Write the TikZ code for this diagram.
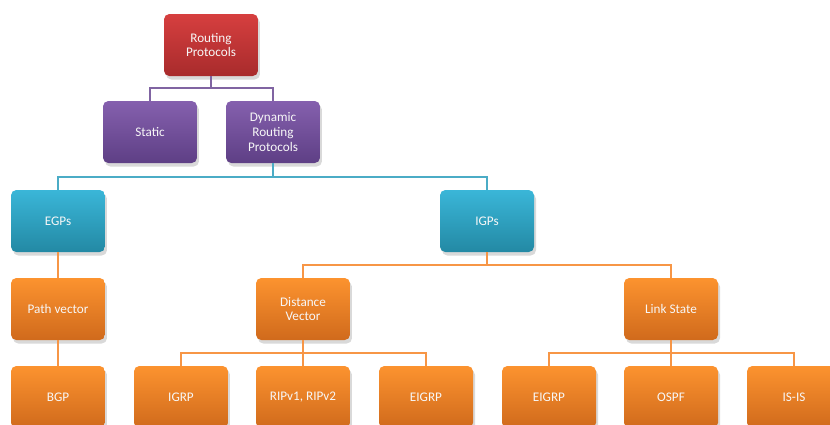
\documentclass[tikz,border=0pt]{standalone}
\usepackage{fontspec}
\setmainfont{Carlito}
\usetikzlibrary{shadows,calc}
\definecolor{redT}{HTML}{D63F3F}
\definecolor{redB}{HTML}{A82B2C}
\definecolor{purT}{HTML}{8560AE}
\definecolor{purB}{HTML}{5E3F85}
\definecolor{aquT}{HTML}{3AB6D8}
\definecolor{aquB}{HTML}{2389A4}
\definecolor{oraT}{HTML}{FC932F}
\definecolor{oraB}{HTML}{D06A1C}
\definecolor{purL}{HTML}{8064A2}
\definecolor{aquL}{HTML}{4BACC6}
\definecolor{oraL}{HTML}{F79646}

\begin{document}
\begin{tikzpicture}[x=0.02cm, y=-0.02cm,
	box/.style={rounded corners=3pt, minimum width=1.88cm, minimum height=1.24cm,
		text=white!94!gray, align=center, font=\fontsize{7.5}{8.3}\selectfont,
		drop shadow={opacity=0.3, shadow xshift=0.04cm, shadow yshift=-0.07cm}},
	redbox/.style={box, top color=redT, bottom color=redB},
	purbox/.style={box, top color=purT, bottom color=purB},
	aqubox/.style={box, top color=aquT, bottom color=aquB},
	orabox/.style={box, top color=oraT, bottom color=oraB},
	link/.style={line width=1.2pt}]
	\useasboundingbox (0,0) rectangle (830,424);
	\clip (0,0) rectangle (830,424);
	% boxes
	\node[redbox] (RP) at (211,45) {Routing\\Protocols};
	\node[purbox] (ST) at (150,132) {Static};
	\node[purbox] (DRP) at (273,132) {Dynamic\\Routing\\Protocols};
	\node[aqubox] (EGP) at (58,221) {EGPs};
	\node[aqubox] (IGP) at (487,221) {IGPs};
	\node[orabox] (PV) at (58,309) {Path vector};
	\node[orabox] (DV) at (303,309) {Distance\\Vector};
	\node[orabox] (LS) at (671,309) {Link State};
	\node[orabox] (BGP) at (58,397) {BGP};
	\node[orabox] (IGRP) at (181,397) {IGRP};
	\node[orabox] (RIP) at (303,397) {RIPv1, RIPv2};
	\node[orabox] (EIG1) at (426,397) {EIGRP};
	\node[orabox] (EIG2) at (549,397) {EIGRP};
	\node[orabox] (OSPF) at (671,397) {OSPF};
	\node[orabox] (ISIS) at (794,397) {IS-IS};
	% bar points
	\coordinate (A) at (211,88);
	\coordinate (B) at (273,177);
	\coordinate (C) at (487,265);
	\coordinate (D) at (303,353);
	\coordinate (E) at (671,353);
	% connectors
	\draw[link, purL] (RP.south) -- (A);
	\draw[link, purL] (ST.north) |- (A) -| (DRP.north);
	\draw[link, aquL] (DRP.south) -- (B);
	\draw[link, aquL] (EGP.north) |- (B) -| (IGP.north);
	\draw[link, oraL] (IGP.south) -- (C);
	\draw[link, oraL] (DV.north) |- (C) -| (LS.north);
	\draw[link, oraL] (EGP.south) -- (PV.north);
	\draw[link, oraL] (PV.south) -- (BGP.north);
	\draw[link, oraL] (DV.south) -- (D);
	\draw[link, oraL] (IGRP.north) |- (D) -| (EIG1.north);
	\draw[link, oraL] (D) -- (RIP.north);
	\draw[link, oraL] (LS.south) -- (E);
	\draw[link, oraL] (EIG2.north) |- (E) -| (ISIS.north);
	\draw[link, oraL] (E) -- (OSPF.north);
\end{tikzpicture}
\end{document}
